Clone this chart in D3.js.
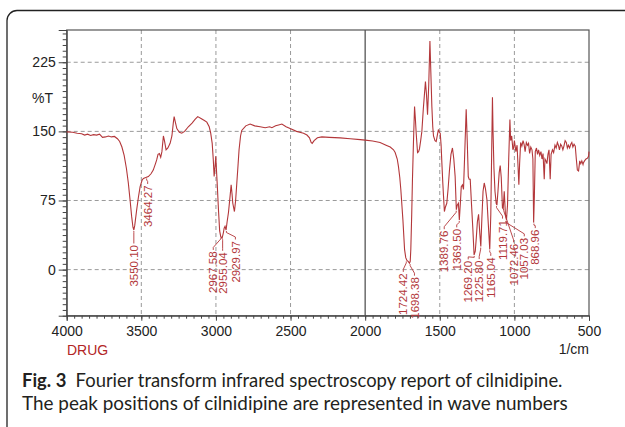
<!DOCTYPE html>
<html>
<head>
<meta charset="utf-8">
<script src="https://cdn.jsdelivr.net/npm/d3@7"></script>
<style>
body{margin:0;background:#fff;}
svg{display:block;}
</style>
</head>
<body>
<svg id="chart" width="625" height="427"></svg>
<script>
// spectrum: wave number (1/cm) and %T
var waveNumbers = [4000,3960,3930,3900,3880,3860,3840,3820,3800,3780,3760,3740,3720,3700,3680,3660,3645,3630,3615,3600,3587,3575,3565,3556,3550,3544,3531,3520,3508,3495,3486,3470,3453,3435,3420,3405,3397,3388,3379,3370,3362,3352,3345,3334,3322,3307,3295,3285,3280,3272,3262,3245,3229,3210,3185,3160,3140,3122,3100,3080,3061,3045,3035,3025,3018,3012,3006,3001,2997,2992,2983,2975,2968,2959,2953,2950,2945,2939,2932,2925,2916,2905,2898,2892,2887,2876,2868,2860,2852,2845,2835,2827,2800,2771,2740,2704,2670,2640,2625,2600,2580,2558,2530,2503,2460,2413,2390,2373,2362,2355,2342,2320,2290,2240,2167,2100,2033,2000,1950,1900,1860,1832,1810,1799,1785,1777,1768,1761,1747,1736,1728,1720,1712,1703,1698,1694,1688,1683,1676,1669,1664,1658,1649,1642,1636,1628,1620,1610,1596,1589,1582,1574,1566,1560,1553,1547,1542,1532,1524,1515,1509,1503,1497,1491,1486,1480,1475,1469,1462,1453,1444,1435,1425,1415,1406,1397,1389,1383,1375,1369,1362,1356,1348,1341,1333,1323,1316,1309,1303,1296,1287,1278,1270,1262,1255,1248,1240,1232,1225,1218,1210,1202,1194,1184,1175,1165,1158,1152,1147,1143,1137,1130,1122,1117,1110,1102,1095,1088,1080,1075,1068,1060,1053,1046,1038,1030,1025,1018,1010,1005,1000,990,982,975,970,965,958,950,942,935,928,920,912,905,898,890,882,876,871,866,860,852,845,838,830,822,815,808,800,795,788,782,775,768,760,754,745,737,728,720,712,705,698,690,682,675,668,660,652,645,638,630,622,615,608,600,592,585,578,570,562,555,548,540,537,530,520,510,503,500];
var transmittance = [149.5,149,148,147.5,146,147,145.5,146.5,146,147,143.5,144,145,144,144.5,142,139,133,124,110,94,75,58,46,43,48,65,78,90,97,99,100,101,104,108,115,119,125,126,122,128,145,140,130,132,137,145,160,166,160,153,149,148,150,155,159,163,166,164,162,160,155,148,137,120,101,112,123,110,95,65,42,36,34,38,40,45,47,43,52,62,80,92,82,72,63,75,94,113,130,145,151,156,158,156,155,154,155,154,156,157,158,155,153,150,148,146,143,138,137,140,143,144,143.5,143,142,141,140.5,139.5,138,135,133,130,127,120,112,100,87,54,22,13,10,9,7,9,22,60,98,140,177,165,148,127,128,131,140,150,175,204,190,168,200,248,215,177,155,145,140,139,147,152,149,148,135,116,95,80,63,68,72,88,108,125,132,120,101,65,70,72,54,72,90,92,87,125,174,140,101,98,98,70,43,16,20,35,52,60,40,25,55,85,94,88,76,50,22,60,130,187,150,110,85,72,70,85,105,113,100,67,66,85,60,54,70,120,163,140,145,130,132,140,128,135,110,92,115,138,134,140,136,128,138,135,137,126,133,130,120,51,80,128,132,125,130,124,128,120,126,98,120,118,115,125,130,98,125,130,127,135,132,138,135,130,136,134,130,134,140,138,132,135,132,136,138,133,136,134,120,108,107,118,115,118,114,116,118,120,121,123,128];

// labelled peaks
var peakWave = [3550.10,3464.27,2967.58,2955.04,2929.97,1724.42,1698.38,1389.76,1369.50,1269.20,1225.80,1165.04,1119.71,1072.46,1057.03,868.96];
var peakT = [43,100,36,34,43,10,7,65,54,16,25,22,70,67,54,51];
var peakText = ["3550.10","3464.27","2967.58","2955.04","2929.97","1724.42","1698.38","1389.76","1369.50","1269.20","1225.80","1165.04","1119.71","1072.46","1057.03","868.96"];

var xMajor = [4000,3500,3000,2500,2000,1500,1000,500];
var yMajor = [0,75,150,225];
var xGrid = [3500,3000,2500,1500,1000];

var red = "#b3373a";
var svg = d3.select("#chart");

// frame round the figure
svg.append("rect")
  .attr("x",7).attr("y",10.5).attr("width",628).attr("height",430)
  .attr("rx",10).attr("ry",10)
  .style("fill","none").style("stroke","#222").style("stroke-width",1.3);

var x = d3.scaleLinear().domain([4000,500]).range([66.7,589]);
var y = d3.scaleLinear().domain([-50,260]).range([315.7,30]);

// grid
svg.append("g").selectAll("line").data(xGrid).enter().append("line")
  .attr("x1",function(d){return x(d)}).attr("x2",function(d){return x(d)})
  .attr("y1",30).attr("y2",315.7)
  .style("stroke","#9a9a9a").style("stroke-dasharray","4,3");
svg.append("g").selectAll("line").data(yMajor).enter().append("line")
  .attr("x1",66.7).attr("x2",589)
  .attr("y1",function(d){return y(d)}).attr("y2",function(d){return y(d)})
  .style("stroke","#9a9a9a").style("stroke-dasharray","4,3");
svg.append("line")
  .attr("x1",x(2000)).attr("x2",x(2000)).attr("y1",30).attr("y2",315.7)
  .style("stroke","#555").style("stroke-width",1.3);

svg.append("rect")
  .attr("x",66.7).attr("y",30).attr("width",589-66.7).attr("height",315.7-30)
  .style("fill","none").style("stroke","#555").style("stroke-width",1.2);

// axes
var minorX = d3.range(4000,499,-50);
var minorY = d3.range(-50,261,6.25);
svg.append("g").attr("transform","translate(0,315.7)")
  .call(d3.axisBottom(x).tickValues(minorX).tickSize(3).tickFormat(""))
  .call(function(g){g.select(".domain").remove();});
svg.append("g").attr("transform","translate(0,315.7)")
  .call(d3.axisBottom(x).tickValues(xMajor).tickSize(5).tickPadding(5).tickFormat(d3.format("d")))
  .call(function(g){g.select(".domain").style("stroke","#444");
    g.selectAll("text").style("font-family","Liberation Sans, Arial").style("font-size","14px").style("fill","#222");});
svg.append("g").attr("transform","translate(66.7,0)")
  .call(d3.axisLeft(y).tickValues(minorY).tickSize(4).tickFormat(""))
  .call(function(g){g.select(".domain").remove();});
svg.append("g").attr("transform","translate(66.7,0)")
  .call(d3.axisLeft(y).tickValues(yMajor).tickSize(8).tickPadding(3).tickFormat(d3.format("d")))
  .call(function(g){g.select(".domain").style("stroke","#444");
    g.selectAll("text").style("font-family","Liberation Sans, Arial").style("font-size","14px").style("fill","#222");});
svg.selectAll(".tick line").style("stroke","#444");

svg.append("text").attr("x",53).attr("y",103).attr("text-anchor","end")
  .style("font-family","Liberation Sans, Arial").style("font-size","14px").style("fill","#222").text("%T");
svg.append("text").attr("x",67).attr("y",355)
  .style("font-family","Liberation Sans, Arial").style("font-size","14px").style("fill","#b22525").text("DRUG");
svg.append("text").attr("x",589).attr("y",354).attr("text-anchor","end")
  .style("font-family","Liberation Sans, Arial").style("font-size","14px").style("fill","#222").text("1/cm");

// spectrum
var points = waveNumbers.map(function(w,i){return [w,transmittance[i]];});
var line = d3.line().x(function(d){return x(d[0])}).y(function(d){return y(d[1])});
svg.append("path").datum(points).attr("d",line)
  .style("fill","none").style("stroke",red).style("stroke-width",1.1);

// peak labels: label offset from the peak (dx) and label top below it (dy)
var labelDx = [0,1,-7.5,0,9,-3,4.3,-12,-2.5,-6,-1.5,1,6,10,18.4,1.3];
var labelDy = [14,7,14,13,10,12,13,20,8,5,13,7,14,35,17,6];
var lab = svg.append("g");
peakWave.forEach(function(w,i){
  var px = x(w), py = y(peakT[i]);
  var lx = px + labelDx[i], top = py + labelDy[i];
  lab.append("path")
    .attr("d","M"+px+","+(py+1)+"L"+px+","+(py+2.5)+"L"+lx+","+(top-3)+"L"+lx+","+(top-0.5))
    .style("fill","none").style("stroke",red).style("stroke-width",0.9);
  lab.append("text")
    .attr("transform","translate("+lx+","+(top+1)+") rotate(-90)")
    .attr("text-anchor","end").attr("dy","0.36em")
    .style("font-family","Liberation Sans, Arial").style("font-size","11.5px").style("fill",red)
    .text(peakText[i]);
});

// caption
var cap = svg.append("g").style("font-family","Lato").style("fill","#231f20");
var t1 = cap.append("text").attr("x",22).attr("y",387).style("font-size","18px");
t1.append("tspan").style("font-weight","bold").text("Fig. 3");
t1.append("tspan").text("\u2002Fourier transform infrared spectroscopy report of cilnidipine.");
var t2 = cap.append("text").attr("x",22).attr("y",410).style("font-size","18px")
  .text("The peak positions of cilnidipine are represented in wave numbers");
[[t1,541],[t2,546]].forEach(function(p){
  var w = p[0].node().getComputedTextLength();
  p[0].style("font-size",(18*p[1]/w)+"px");
});
</script>
</body>
</html>
